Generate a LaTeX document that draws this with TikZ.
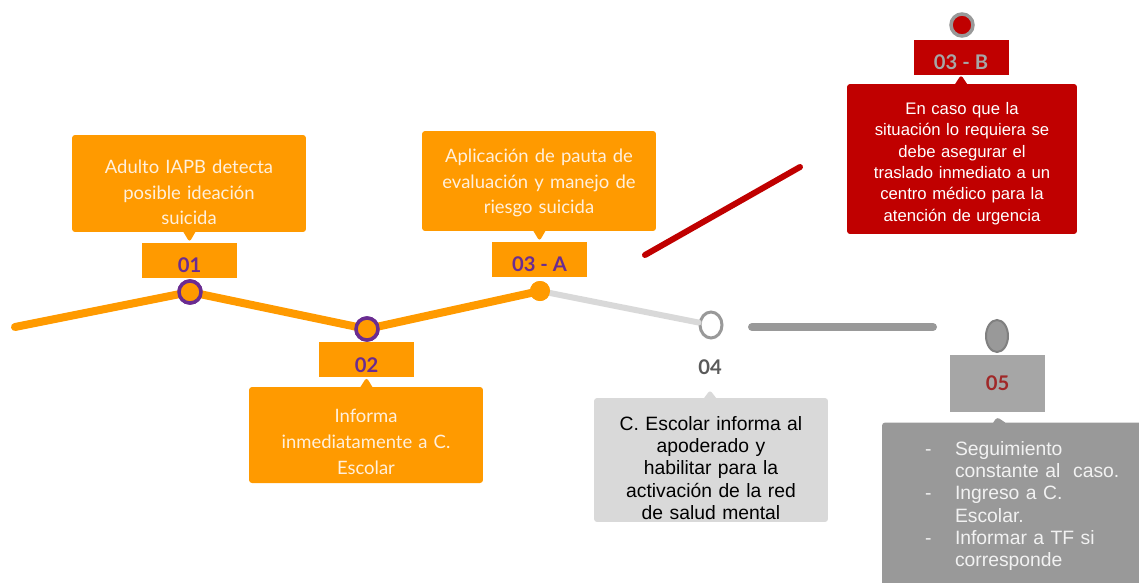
\documentclass[tikz,border=0pt]{standalone}
\usepackage{fontspec}
\setmainfont{Liberation Sans}
\newfontfamily\robofont{Lato}
\usetikzlibrary{shapes.callouts,shapes.geometric}

\definecolor{stepOrange}{HTML}{FF9A00}
\definecolor{stepPurple}{HTML}{6A2C91}
\definecolor{stepRed}{HTML}{C00000}
\definecolor{lightGray}{HTML}{D9D9D9}
\definecolor{midGray}{HTML}{A6A6A6}
\definecolor{darkGray}{HTML}{999999}
\definecolor{softWhite}{HTML}{FFF0DC}

\tikzset{
  callbox/.style={rectangle callout,rounded corners=0.06cm,inner xsep=0.1cm,inner ysep=0cm,
    align=center,callout pointer width=0.24cm},
  numbox/.style={rectangle,inner xsep=0cm,inner ysep=0.04cm,minimum width=1.9cm,
    text height=0.56cm,text depth=0.06cm,font=\robofont\fontsize{11.5}{12}\selectfont\bfseries},
  orangetext/.style={text=softWhite,font=\robofont\fontsize{10.5}{14.7}\selectfont},
  ring/.style={circle,inner sep=0pt,minimum size=0.44cm,line width=0.07cm},
  track/.style={line width=0.16cm,line cap=round},
}

\begin{document}
\begin{tikzpicture}[x=0.02cm,y=-0.02cm]
\useasboundingbox (0,0) rectangle (1139,582);
\clip (0,0) rectangle (1139,582);

% milestones on the track
\coordinate (start) at (15,327);
\node (c01) at (190,292) [ring,draw=stepPurple,fill=stepOrange]{};
\node (c02) at (367,329) [ring,draw=stepPurple,fill=stepOrange]{};
\node (d03a) at (540,291) [circle,inner sep=0pt,minimum size=0.4cm,fill=stepOrange]{};
\node (c04) at (711,325) [ellipse,inner sep=0pt,minimum width=0.44cm,minimum height=0.52cm,
  line width=0.06cm,draw=darkGray,fill=white]{};
\node (c05) at (997,336) [ellipse,inner sep=0pt,minimum width=0.44cm,minimum height=0.64cm,
  line width=0.04cm,draw=gray,fill=darkGray]{};
\node (c03b) at (962,25) [ring,draw=darkGray,fill=stepRed]{};

\coordinate (g1) at (752,327);
\coordinate (g2) at (933,327);
\coordinate (r1) at (645,255);
\coordinate (r2) at (800,167);

\draw[track,stepOrange] (start) -- (c01.center) -- (c02.center) -- (d03a.center);
\draw[line width=0.12cm,line cap=round,lightGray] (d03a.center) -- (c04);
\draw[track,darkGray] (g1) -- (g2);
\draw[line width=0.12cm,line cap=round,stepRed] (r1) -- (r2);
\node at (c01) [ring,draw=stepPurple,fill=stepOrange]{};
\node at (c02) [ring,draw=stepPurple,fill=stepOrange]{};
\node at (d03a) [circle,inner sep=0pt,minimum size=0.4cm,fill=stepOrange]{};

% number labels
\node (n01) at (189.5,260) [numbox,fill=stepOrange,text=stepPurple]{01};
\node (n02) at (366.5,359.5) [numbox,fill=stepOrange,text=stepPurple]{02};
\node (n03a) at (539.5,259) [numbox,fill=stepOrange,text=stepPurple]{03 - A};
\node (n03b) at (961,57) [numbox,fill=stepRed,text=midGray]{03 - B};
\node (n05) at (997.5,383.5) [numbox,fill=midGray,text={rgb,255:red,160;green,40;blue,40},
  text height=0.7cm,text depth=0.44cm,inner ysep=0cm]{05};
\node (n04) at (710,367) [font=\robofont\fontsize{11.5}{12}\selectfont\bfseries,text={rgb,255:red,90;green,90;blue,90}]{04};
\coordinate (tip04) at (710,390);

% callout boxes
\node (b01) at (189,183.5) [callbox,orangetext,fill=stepOrange,text width=4.4cm,text height=17.8pt,
  minimum width=4.68cm,minimum height=1.94cm,callout absolute pointer={(n01.north)}]
  {Adulto IAPB detecta\\ posible ideación\\ suicida};
\node (b02) at (366,435) [callbox,orangetext,fill=stepOrange,text width=4.4cm,text height=15.5pt,
  minimum width=4.68cm,minimum height=1.92cm,callout absolute pointer={(n02.south)}]
  {Informa\\ inmediatamente a C.\\ Escolar};
\node (b03a) at (539,181) [callbox,orangetext,fill=stepOrange,text width=4.4cm,text height=9.9pt,
  minimum width=4.68cm,minimum height=2cm,callout absolute pointer={(n03a.north)}]
  {Aplicación de pauta de\\ evaluación y manejo de\\ riesgo suicida};
\node (b04) at (711,460) [callbox,fill=lightGray,text width=4.4cm,text height=17.1pt,
  minimum width=4.68cm,minimum height=2.48cm,callout absolute pointer={(tip04)},
  font=\fontsize{11}{12.75}\selectfont]
  {C. Escolar informa al\\ apoderado y\\ habilitar para la\\ activación de la red\\ de salud mental};
\node (b03b) at (962,159) [callbox,fill=stepRed,text=white,text width=4.4cm,text height=12pt,
  minimum width=4.6cm,minimum height=3cm,callout absolute pointer={(n03b.south)},
  font=\fontsize{9.5}{12.2}\selectfont]
  {En caso que la\\ situación lo requiera se\\ debe asegurar el\\ traslado inmediato a un\\ centro médico para la\\ atención de urgencia};
\node (b05) at (1032.5,506) [callbox,fill=darkGray,text={rgb,255:red,242;green,242;blue,242},
  inner xsep=0.86cm,text width=4.3cm,align=left,
  minimum width=6.02cm,minimum height=3.34cm,callout absolute pointer={(997,417)},
  font=\fontsize{11}{12.7}\selectfont]
  {\makebox[0.6cm][l]{-}Seguimiento\\ \hspace*{0.6cm}constante al\ \ caso.\\
   \makebox[0.6cm][l]{-}Ingreso a C.\\ \hspace*{0.6cm}Escolar.\\
   \makebox[0.6cm][l]{-}Informar a TF si\\ \hspace*{0.6cm}corresponde};
\end{tikzpicture}
\end{document}
